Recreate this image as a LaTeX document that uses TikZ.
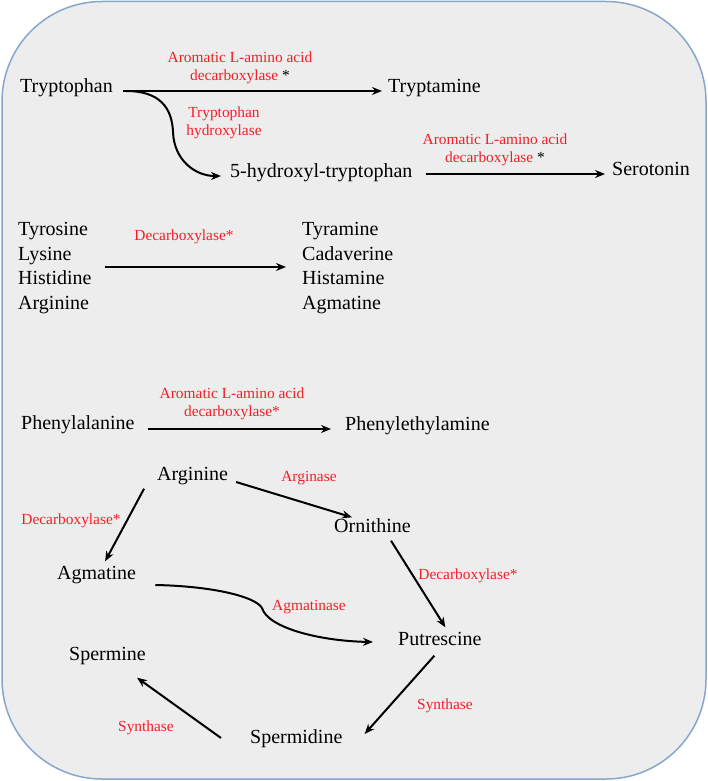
\documentclass[tikz,border=0pt]{standalone}
\usepackage{fontspec}
\setmainfont{Liberation Serif}
\usetikzlibrary{arrows.meta}
\definecolor{bgfill}{RGB}{237,237,237}
\definecolor{bgline}{RGB}{135,166,204}
\definecolor{enzred}{RGB}{245,30,40}
\tikzset{
  mol/.style={font=\fontsize{20}{24}\selectfont, inner sep=0pt, anchor=west,
              text height=0.68em, text depth=0.22em},
  enz/.style={font=\fontsize{15.4}{18.5}\selectfont, text=enzred, inner sep=0pt, align=center},
  arr/.style={-{Stealth[length=10pt,width=8pt]}, line width=2pt, black},
}
\begin{document}
\begin{tikzpicture}[x=1pt,y=-1pt]
\useasboundingbox (0,0) rectangle (708,781);
\draw[fill=bgfill, draw=bgline, line width=1.5pt, rounded corners=100pt] (2,1.5) rectangle (706,779);

% molecules
\node[mol] (tryp)  at (20,90)  {Tryptophan};
\node[mol] (trypt) at (388,90) {Tryptamine};
\node[mol] (htp)   at (230,175) {5-hydroxyl-tryptophan};
\node[mol] (sero)  at (612,173) {Serotonin};

\node[mol] (tyr)  at (18,233) {Tyrosine};
\node[mol] (lys)  at (18,258) {Lysine};
\node[mol] (his)  at (18,282) {Histidine};
\node[mol] (argA) at (18,307) {Arginine};
\node[mol] (tyra)  at (302,233) {Tyramine};
\node[mol] (cad)   at (302,258) {Cadaverine};
\node[mol] (hista) at (302,282) {Histamine};
\node[mol] (agmA)  at (302,307) {Agmatine};

\node[mol] (phe) at (21,427)  {Phenylalanine};
\node[mol] (pea) at (345,428) {Phenylethylamine};

\node[mol] (arg) at (157,478) {Arginine};
\node[mol] (orn) at (334,530) {Ornithine};
\node[mol] (agm) at (57,577)  {Agmatine};
\node[mol] (put) at (398,643) {Putrescine};
\node[mol] (spd) at (250,741) {Spermidine};
\node[mol] (spm) at (69,658)  {Spermine};

% enzymes
\node[enz] (e1) at (240,68)  {Aromatic L-amino acid\\decarboxylase {\color{black}*}};
\node[enz] (e2) at (224,123) {Tryptophan\\hydroxylase};
\node[enz] (e3) at (495,150) {Aromatic L-amino acid\\decarboxylase {\color{black}*}};
\node[enz] (e4) at (184,237) {Decarboxylase*};
\node[enz] (e5) at (232,404) {Aromatic L-amino acid\\decarboxylase*};
\node[enz] (e6) at (309,478) {Arginase};
\node[enz] (e7) at (71,521)  {Decarboxylase*};
\node[enz] (e8) at (468,576) {Decarboxylase*};
\node[enz] (e9) at (309,607) {Agmatinase};
\node[enz] (e10) at (445,706) {Synthase};
\node[enz] (e11) at (146,728) {Synthase};

% arrows
\draw[arr] ([shift={(10,1)}]tryp.east) -- ([shift={(-6,1)}]trypt.west);
\draw[arr] ([shift={(13,1)}]tryp.east) .. controls (160,91) and (172,108) .. (173,132)
           .. controls (174,160) and (195,176) .. ([shift={(-9,1)}]htp.west);
\draw[arr] ([shift={(13,-1)}]htp.east) -- ([shift={(-7,1)}]sero.west);
\draw[arr] ([shift={(13,-15)}]his.east) -- ([shift={(-16,-15)}]hista.west);
\draw[arr] ([shift={(13,2)}]phe.east) -- ([shift={(-14,1)}]pea.west);
\draw[arr] ([shift={(8,4)}]arg.east) -- ([shift={(-20.5,-8)}]orn.north);
\draw[arr] ([shift={(-48.5,6)}]arg.south) -- ([shift={(8.5,-11)}]agm.north);
\draw[arr] ([shift={(18.5,6)}]orn.south) -- ([shift={(5.5,-11)}]put.north);
\draw[arr] ([shift={(19,8)}]agm.east) .. controls (210,586) and (255,596) .. (262,608)
           .. controls (268,628) and (320,641) .. ([shift={(-25,-1)}]put.west);
\draw[arr] ([shift={(-5.5,8)}]put.south) -- ([shift={(22,-7)}]spd.east);
\draw[arr] ([shift={(-29,-3)}]spd.west) -- ([shift={(29.5,15)}]spm.south);
\end{tikzpicture}
\end{document}
